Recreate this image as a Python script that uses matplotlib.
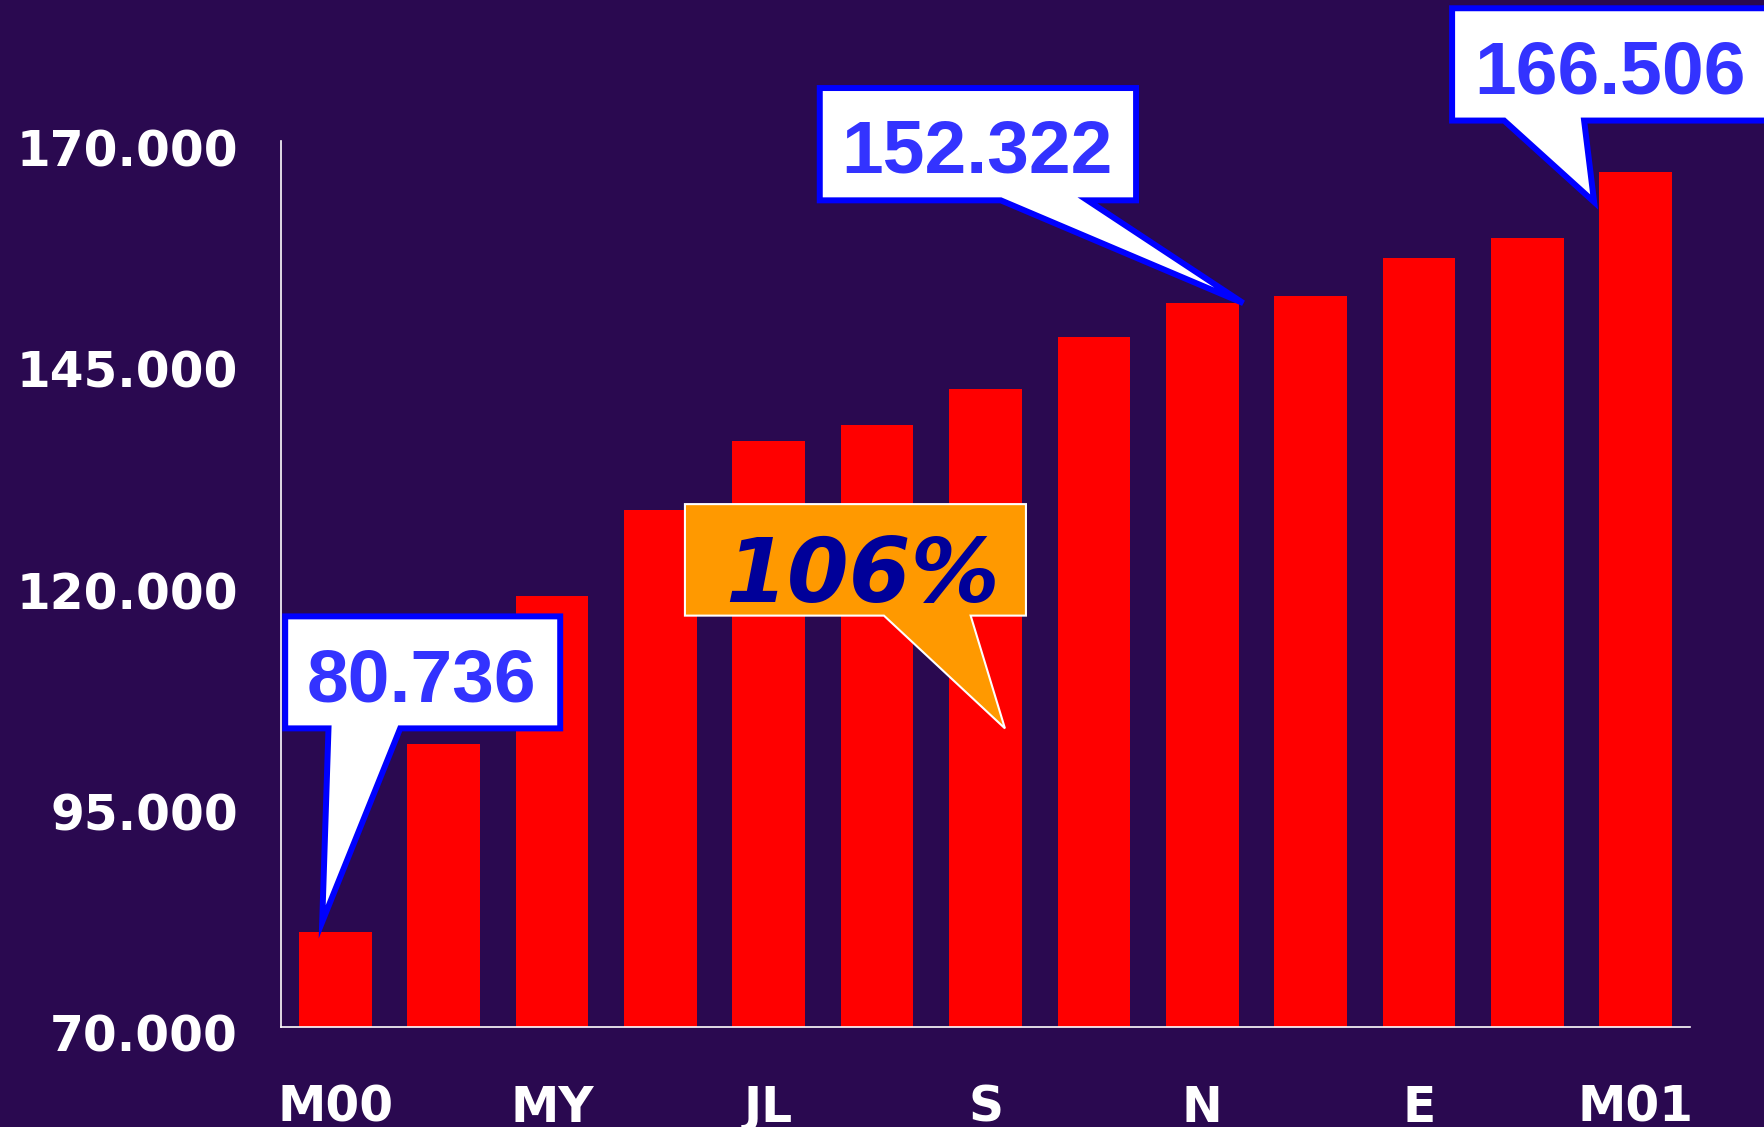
import matplotlib
matplotlib.use("Agg")
import matplotlib.pyplot as plt
import matplotlib.transforms as mtransforms
from matplotlib.patches import Polygon

# ---- data ----
months = ["M00", "", "MY", "", "JL", "", "S", "", "N", "", "E", "", "M01"]
values = [80.736, 101.9, 118.6, 128.3, 136.1, 137.9, 142.0, 147.9,
          151.7, 152.5, 156.8, 159.1, 166.506]
yticks = [70, 95, 120, 145, 170]
ytick_labels = ["70.000", "95.000", "120.000", "145.000", "170.000"]
callout_bars = [0, 8, 12]
callout_texts = ["80.736", "152.322", "166.506"]
ratio_text = "106%"

BG = "#2a0950"
RED = "#FF0000"

W, H = 1764, 1127
fig = plt.figure(figsize=(W / 100, H / 100), dpi=100, facecolor=BG)
ax = fig.add_axes([281 / W, 100 / H, 1409 / W, 886 / H])
ax.set_facecolor(BG)

x = list(range(len(values)))
ax.bar(x, values, width=0.67, color=RED, zorder=2)
ax.set_xlim(-0.5, len(values) - 0.5)
ax.set_ylim(70, 170)

for s in ["top", "right"]:
    ax.spines[s].set_visible(False)
for s in ["left", "bottom"]:
    ax.spines[s].set_color("white")
    ax.spines[s].set_linewidth(1.2)
    ax.spines[s].set_zorder(3)

ax.set_yticks(yticks)
ax.set_yticklabels(ytick_labels)
ax.set_xticks(x)
ax.set_xticklabels(months)
ax.tick_params(axis="y", length=0, pad=31, labelsize=35, labelcolor="white")
ax.tick_params(axis="x", length=0, pad=41, labelsize=35, labelcolor="white")
for lab in ax.get_yticklabels() + ax.get_xticklabels():
    lab.set_fontweight("bold")
    lab.set_fontfamily("DejaVu Sans")
shift = mtransforms.ScaledTranslation(0, -6 / 100, fig.dpi_scale_trans)
for lab in ax.get_yticklabels():
    lab.set_transform(lab.get_transform() + shift)


def callout(anchor, anchor_trans, box, base, tip, fc, ec, lw, inset):
    (bx0, bx1), (by0, by1) = box
    bx0 += inset; bx1 -= inset; by0 += inset; by1 -= inset
    verts = [(bx0, by1), (bx1, by1), (bx1, by0), (base[1], by0), tip,
             (base[0], by0), (bx0, by0)]
    tr = mtransforms.IdentityTransform() + mtransforms.ScaledTranslation(
        anchor[0], anchor[1], anchor_trans)
    p = Polygon(verts, closed=True, transform=tr, facecolor=fc, edgecolor=ec,
                linewidth=lw, joinstyle="miter", clip_on=False, zorder=5)
    ax.add_patch(p)


# layout of the value callouts (pixel offsets from the bar top)
layouts = [
    dict(box=((-53, 228), (200.5, 318.5)), base=(-6.7, 65), tip=(-13, 10), text=(86, 257.5)),
    dict(box=((-385.5, -63.2), (99.8, 218.1)), base=(-201.5, -114.8), tip=(41, 0), text=(-225.7, 157.3)),
    dict(box=((-186.7, 220), (48.4, 166.7)), base=(-131.7, -51.7), tip=(-41.7, -30), text=(-25.9, 105.9)),
]
for bi, txt, lay in zip(callout_bars, callout_texts, layouts):
    anchor = (x[bi], values[bi])
    callout(anchor, ax.transData, lay["box"], lay["base"], lay["tip"],
            "white", "#0000FF", 4.3, 3)
    ax.annotate(txt, xy=anchor, xycoords="data", xytext=lay["text"],
                textcoords="offset pixels", ha="center", va="center_baseline",
                fontsize=54, fontweight="bold", family="Liberation Sans",
                color="#3333FF", zorder=6, annotation_clip=False)

# ratio callout
ratio_anchor = (0.5138, 0.337)
callout(ratio_anchor, ax.transAxes, ((-321, 22), (111.8, 225.3)), (-121, -34.3), (0, 0),
        "#FF9900", "white", 1.5, 1)
ax.annotate(ratio_text, xy=ratio_anchor, xycoords="axes fraction", xytext=(-142.5, 160.8),
            textcoords="offset pixels", ha="center", va="center_baseline",
            fontsize=64, fontweight="bold", fontstyle="oblique", family="DejaVu Sans",
            color="#000099", zorder=6, annotation_clip=False)

fig.savefig("out.png", dpi=100, facecolor=BG)
